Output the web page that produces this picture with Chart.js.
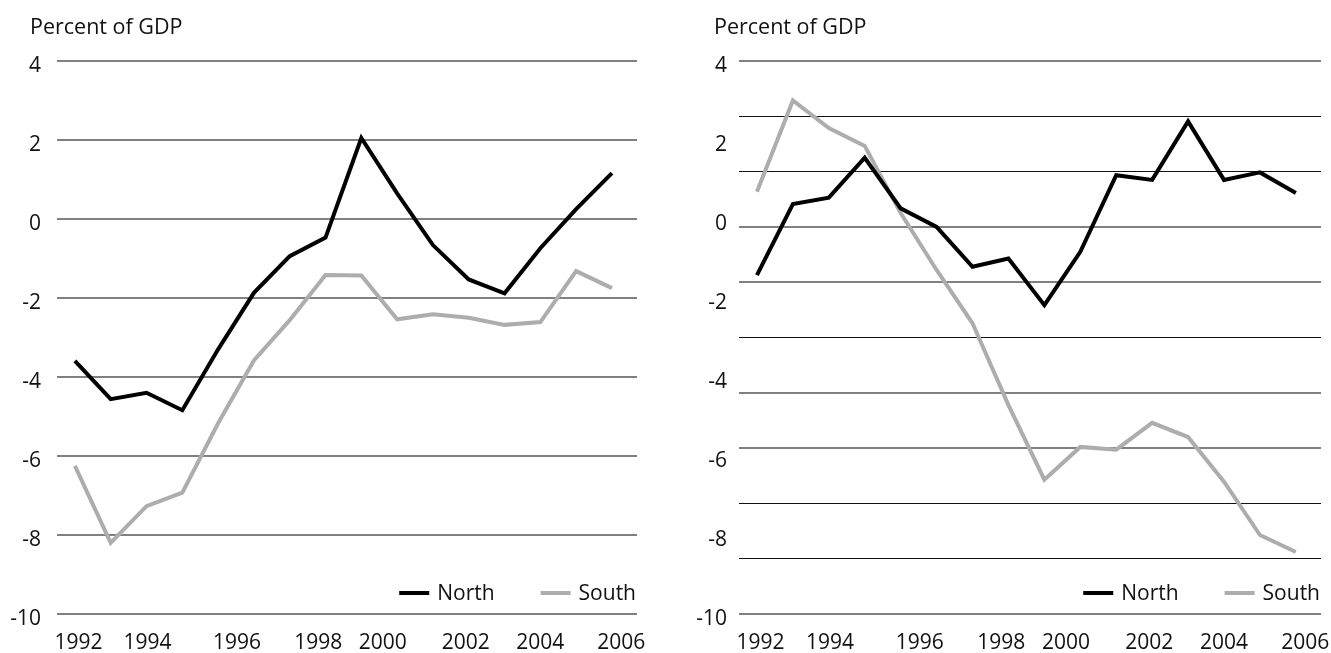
<!DOCTYPE html>
<html><head><meta charset="utf-8">
<script src="https://cdn.jsdelivr.net/npm/chart.js@4.4.1/dist/chart.umd.min.js"></script>
<style>
html,body{margin:0;padding:0;background:#fff;}
body{width:1331px;height:653px;position:relative;overflow:hidden;font-family:'Open Sans',sans-serif;}
.panel{position:absolute;top:0;height:653px;}
.panel canvas{position:absolute;left:0;top:0;}
.ttl{position:absolute;top:11px;font-size:21.5px;font-weight:500;color:#111;white-space:nowrap;line-height:normal;font-family:'Open Sans',sans-serif;}
</style></head><body>
<div class="panel" style="left:0;width:665px"><canvas id="c1" width="665" height="653"></canvas></div>
<div class="panel" style="left:665px;width:666px"><canvas id="c2" width="666" height="653"></canvas></div>
<div class="ttl" style="left:30px">Percent of GDP</div>
<div class="ttl" style="left:714px">Percent of GDP</div>
<script>
// ---- data ----
const years = ['1992','1994','1996','1998','2000','2002','2004','2006'];
const xTickAt = [0.1, 2.03, 4.53, 6.8, 8.6, 10.92, 13.0, 15.26];
const yLabelTicks = [4, 2, 0, -2, -4, -6, -8, -10];
const leftGridTicks = [4, 2, 0, -2, -4, -6, -8, -10];
const rightGridTicks = [4, 2.6, 1.2, -0.2, -1.6, -3, -4.4, -5.8, -7.2, -8.6, -10];
const seriesNames = ['North', 'South'];
const leftNorth  = [-3.59, -4.56, -4.40, -4.84, -3.30, -1.87, -0.94, -0.47, 2.05, 0.65, -0.66, -1.53, -1.88, -0.74, 0.25, 1.16];
const leftSouth  = [-6.25, -8.20, -7.27, -6.93, -5.17, -3.58, -2.56, -1.42, -1.43, -2.54, -2.41, -2.50, -2.68, -2.61, -1.32, -1.75];
const rightNorth = [-1.42, 0.38, 0.54, 1.55, 0.27, -0.20, -1.21, -1.00, -2.18, -0.83, 1.11, 0.99, 2.47, 0.99, 1.18, 0.66];
const rightSouth = [0.69, 3.00, 2.30, 1.85, 0.15, -1.29, -2.64, -4.71, -6.60, -5.77, -5.84, -5.16, -5.52, -6.65, -8.00, -8.43];

// ---- styles ----
const GRAY2 = {color:'#808080', width:2};
const BLK1 = {color:'#111111', width:1};
const leftGridStyle = leftGridTicks.map(() => GRAY2);
const rightGridStyle = [GRAY2, BLK1, BLK1, GRAY2, GRAY2, BLK1, GRAY2, GRAY2, BLK1, BLK1, GRAY2];
const FONT = {family:"'Open Sans'", size:21, weight:500};

const insideLegend = {
  id: 'insideLegend',
  afterDatasetsDraw(chart, args, opts) {
    const ctx = chart.ctx, a = chart.chartArea;
    ctx.save();
    ctx.font = "500 21px 'Open Sans'";
    ctx.textBaseline = 'middle';
    ctx.textAlign = 'left';
    const ty = a.bottom + opts.dy;
    let right = a.right + opts.dx;
    const ds = chart.data.datasets;
    for (let i = ds.length - 1; i >= 0; i--) {
      const w = ctx.measureText(ds[i].label).width;
      const tx = right - w;
      ctx.fillStyle = '#111';
      ctx.fillText(ds[i].label, tx, ty);
      ctx.strokeStyle = ds[i].borderColor;
      ctx.lineWidth = 4;
      ctx.lineCap = 'butt';
      ctx.beginPath();
      ctx.moveTo(tx - 8 - 30, ty - 1.5);
      ctx.lineTo(tx - 8, ty - 1.5);
      ctx.stroke();
      right = tx - 8 - 30 - 46;
    }
    ctx.restore();
  }
};

function makeChart(id, north, south, gridTicks, gridStyle, p) {
  const near = (arr, v) => arr.findIndex(t => Math.abs(t - v) < 1e-6);
  const allTicks = gridTicks.slice();
  yLabelTicks.forEach(v => { if (near(allTicks, v) < 0) allTicks.push(v); });
  allTicks.sort((a, b) => b - a);
  const gs = (v) => { const k = near(gridTicks, v); return k < 0 ? null : gridStyle[k]; };
  return new Chart(document.getElementById(id), {
    type: 'line',
    data: {
      datasets: [
        {label: seriesNames[0], data: north.map((v, i) => ({x: i, y: v})), borderColor: '#000000',
         borderWidth: 4, pointRadius: 0, tension: 0, fill: false, borderJoinStyle: 'miter'},
        {label: seriesNames[1], data: south.map((v, i) => ({x: i, y: v})), borderColor: '#adadad',
         borderWidth: 4, pointRadius: 0, tension: 0, fill: false, borderJoinStyle: 'miter'}
      ]
    },
    options: {
      responsive: false, animation: false, devicePixelRatio: 1,
      layout: {padding: {left: 0, right: p.padRight, top: 61, bottom: 0}},
      plugins: {legend: {display: false}, tooltip: {enabled: false}, title: {display: false},
                insideLegend: {dx: -1, dy: -19.5}},
      scales: {
        x: {
          type: 'linear', min: -0.5, max: 15.7, bounds: 'data',
          grid: {display: false, drawTicks: false}, border: {display: false},
          afterBuildTicks: s => { s.ticks = xTickAt.map(v => ({value: v})); },
          afterFit: s => { s.height = 39; s.paddingLeft = 0; s.paddingRight = 0; },
          ticks: {autoSkip: false, maxRotation: 0, minRotation: 0, padding: 16, color: '#111', font: FONT,
                  callback: (v, i) => years[i]}
        },
        y: {
          type: 'linear', min: -10, max: 4,
          border: {display: false},
          grid: {drawTicks: false,
                 color: c => { const s = gs(c.tick.value); return s ? s.color : 'rgba(0,0,0,0)'; },
                 lineWidth: c => { const s = gs(c.tick.value); return s ? s.width : 0; }},
          afterBuildTicks: s => { s.ticks = allTicks.map(v => ({value: v})); },
          afterFit: s => { s.width = p.axisWidth; },
          ticks: {autoSkip: false, padding: p.labelPad, labelOffset: 5.5, color: '#111', font: FONT,
                  callback: v => near(yLabelTicks, v) >= 0 ? String(v) : ''}
        }
      }
    },
    plugins: [insideLegend]
  });
}

makeChart('c1', leftNorth, leftSouth, leftGridTicks, leftGridStyle, {padRight: 28, axisWidth: 57, labelPad: 16});
makeChart('c2', rightNorth, rightSouth, rightGridTicks, rightGridStyle, {padRight: 10, axisWidth: 74, labelPad: 12});
</script>
</body></html>
